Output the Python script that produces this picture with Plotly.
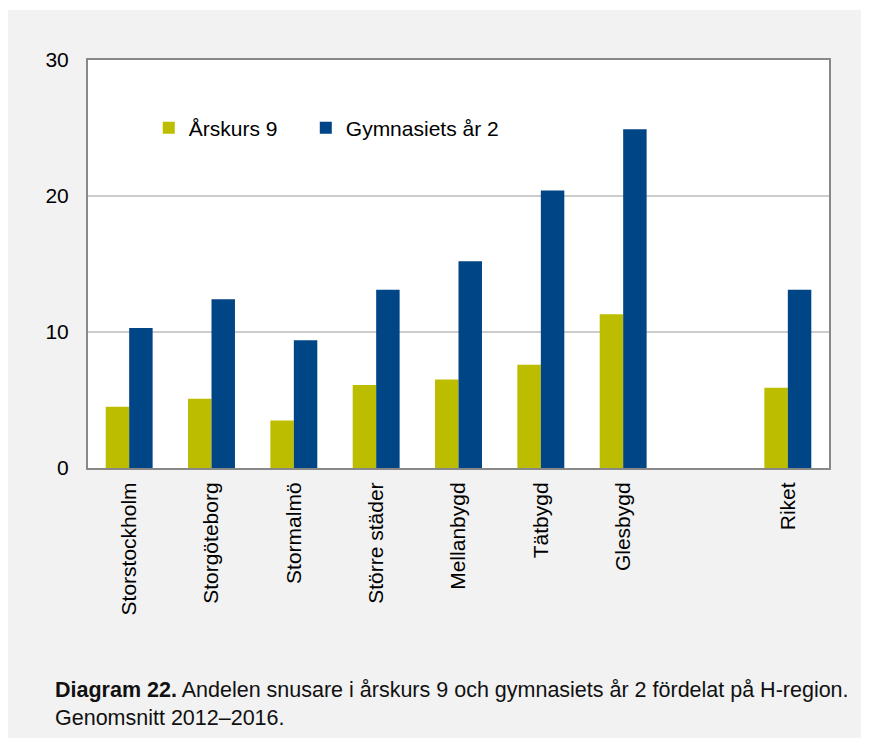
import plotly.graph_objects as go

# H-region categories (empty slot before Riket, as in the original)
regioner = ["Storstockholm", "Storgöteborg", "Stormalmö", "Större städer",
            "Mellanbygd", "Tätbygd", "Glesbygd", " ", "Riket"]
arskurs9 = [4.5, 5.1, 3.5, 6.1, 6.5, 7.6, 11.3, None, 5.9]
gymnasiet2 = [10.3, 12.4, 9.4, 13.1, 15.2, 20.4, 24.9, None, 13.1]

GUL = "#BDBD00"
BLA = "#004586"
FONT = "Liberation Sans, Arial, sans-serif"

fig = go.Figure()
# trailing no-break spaces widen the first legend entry
fig.add_trace(go.Bar(x=regioner, y=arskurs9, name="Årskurs 9" + "\u00a0" * 4,
                     marker=dict(color=GUL, line=dict(width=0))))
fig.add_trace(go.Bar(x=regioner, y=gymnasiet2, name="Gymnasiets år 2",
                     marker=dict(color=BLA, line=dict(width=0))))

# page body has an 8px margin, so the figure is 8px smaller than the window
fig.update_layout(
    width=861, height=731,
    margin=dict(l=80, r=40, t=52, b=271),
    paper_bgcolor="white", plot_bgcolor="white",
    font=dict(family=FONT, size=21, color="#000000"),
    barmode="group", bargap=0.43, bargroupgap=0,
    showlegend=True,
    legend=dict(orientation="h", x=0.082, y=0.833, xanchor="left", yanchor="middle",
                bgcolor="rgba(0,0,0,0)", font=dict(size=21), traceorder="normal"),
    xaxis=dict(type="category", categoryorder="array", categoryarray=regioner,
               tickangle=-90, showgrid=False, showline=True, mirror=True,
               linecolor="#888888", linewidth=2, ticks="", ticklabelstandoff=4,
               tickfont=dict(size=21, color="#000000")),
    yaxis=dict(range=[0, 30], dtick=10, showgrid=True, gridcolor="#CCCCCC", gridwidth=2,
               showline=True, mirror=True, linecolor="#888888", linewidth=2,
               ticks="", ticklabelstandoff=13, zeroline=False,
               tickfont=dict(size=21, color="#000000")),
    shapes=[
        # grey panel behind the chart
        dict(type="rect", xref="paper", yref="paper", x0=-0.1093, x1=1.06, y0=-0.662, y1=1.1225,
             fillcolor="#F2F2F2", line=dict(width=0), layer="below"),
        dict(type="rect", xref="paper", yref="paper", x0=0, x1=1, y0=0, y1=1,
             fillcolor="white", line=dict(width=0), layer="below"),
    ],
    annotations=[
        dict(xref="paper", yref="paper", x=-0.0475, y=-0.51, xanchor="left", yanchor="top",
             align="left", showarrow=False,
             font=dict(family=FONT, size=21.5, color="#111111"),
             text="<b>Diagram 22.</b> Andelen snusare i årskurs 9 och gymnasiets år 2 fördelat på H-region.<br>Genomsnitt 2012–2016."),
    ],
)

fig.write_html("out.html")
